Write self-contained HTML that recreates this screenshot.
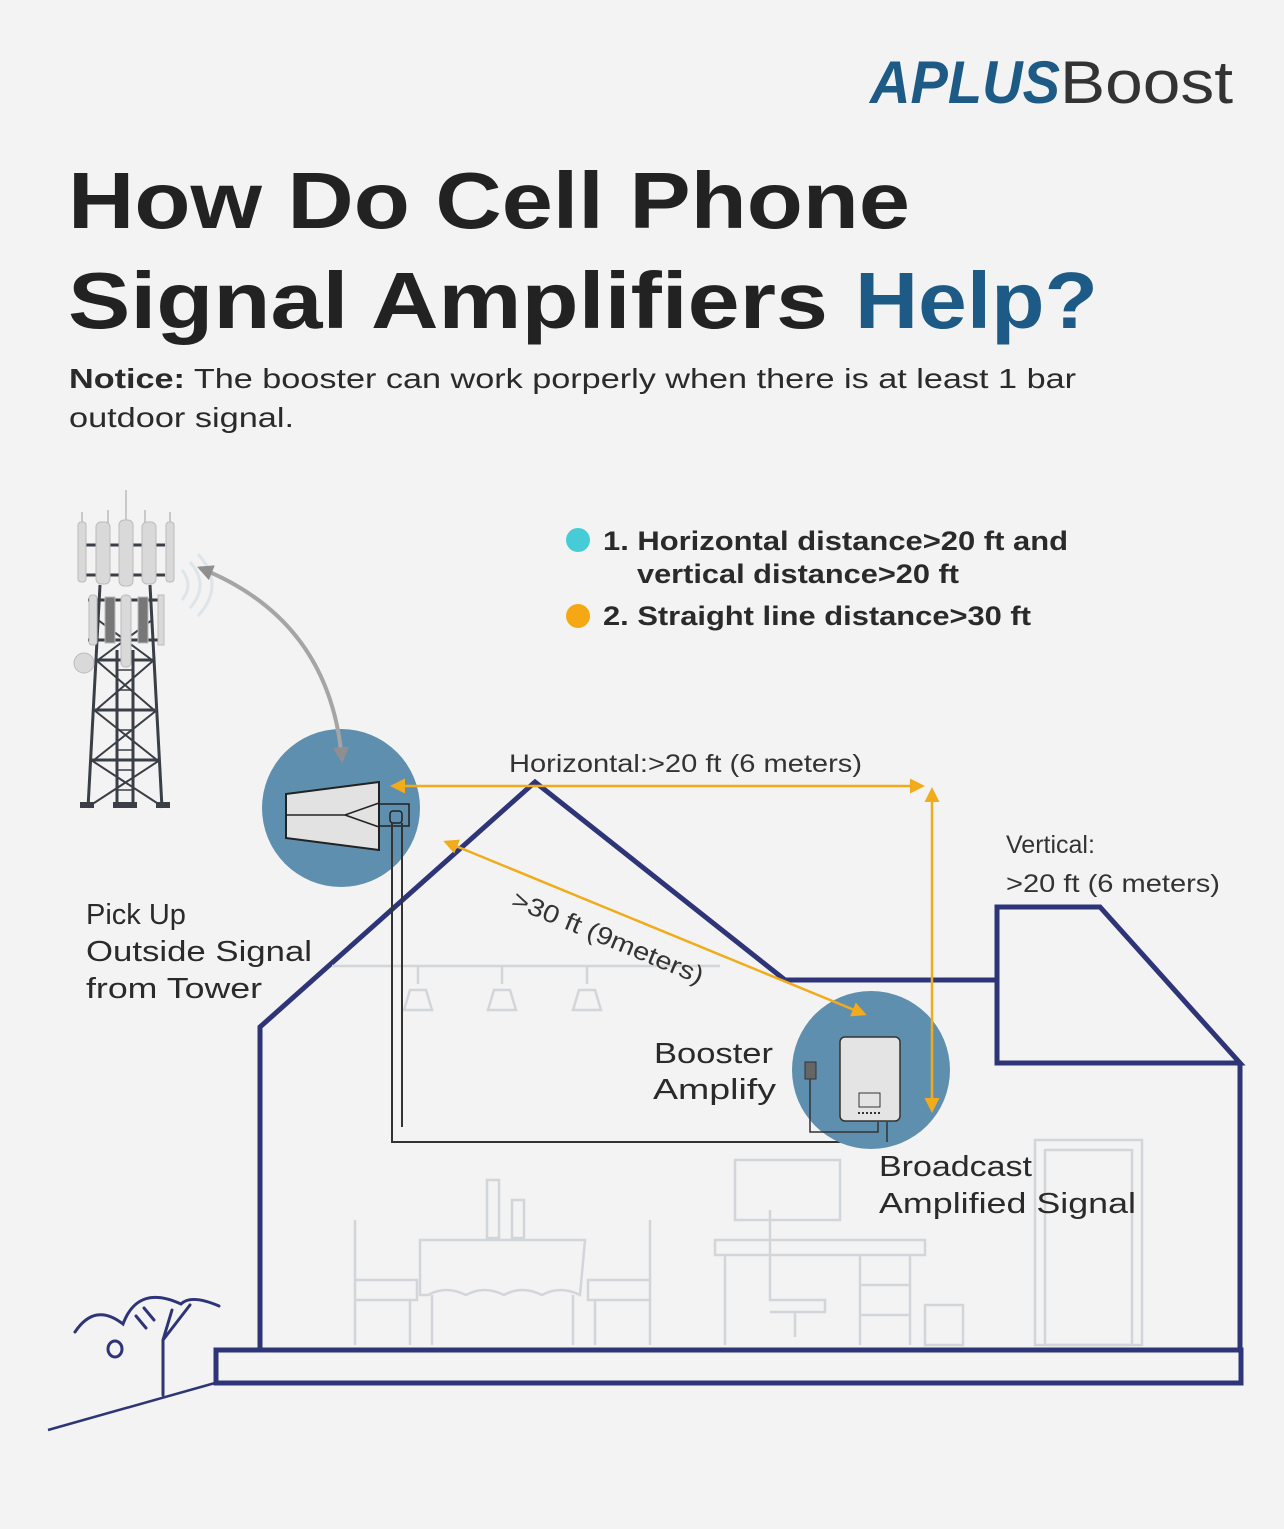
<!DOCTYPE html>
<html><head><meta charset="utf-8"><style>
html,body{margin:0;padding:0;background:#f3f3f3}
svg{display:block}
text{font-family:"Liberation Sans",sans-serif}
</style></head><body>
<svg width="1284" height="1529" viewBox="0 0 1284 1529" xmlns="http://www.w3.org/2000/svg">
<rect width="1284" height="1529" fill="#f3f3f3"/>
<defs>
<marker id="ya" viewBox="0 0 10 10" refX="8" refY="5" markerWidth="6" markerHeight="6" orient="auto-start-reverse"><path d="M0,0 L10,5 L0,10 z" fill="#f2ab1a"/></marker>
<marker id="ga" viewBox="0 0 10 10" refX="8" refY="5" markerWidth="4" markerHeight="4" orient="auto-start-reverse"><path d="M0,0 L10,5 L0,10 z" fill="#8f8f8f"/></marker>
</defs>
<!-- logo -->
<text x="870" y="103" font-size="60" font-weight="bold" font-style="italic" fill="#1d5a86" textLength="190" lengthAdjust="spacingAndGlyphs">APLUS</text>
<text x="1060" y="103" font-size="60" fill="#333" textLength="173" lengthAdjust="spacingAndGlyphs">Boost</text>
<!-- title -->
<text x="68" y="228" font-size="80" font-weight="bold" fill="#222" textLength="842" lengthAdjust="spacingAndGlyphs">How Do Cell Phone</text>
<text x="68" y="328" font-size="80" font-weight="bold" fill="#222" textLength="760" lengthAdjust="spacingAndGlyphs">Signal Amplifiers</text>
<text x="855" y="328" font-size="80" font-weight="bold" fill="#1d5a86" textLength="243" lengthAdjust="spacingAndGlyphs">Help?</text>
<text x="69" y="388" font-size="28" fill="#2a2a2a" textLength="1007" lengthAdjust="spacingAndGlyphs"><tspan font-weight="bold">Notice:</tspan> The booster can work porperly when there is at least 1 bar</text>
<text x="69" y="427" font-size="28" fill="#2a2a2a" textLength="225" lengthAdjust="spacingAndGlyphs">outdoor signal.</text>
<!-- legend -->
<circle cx="578" cy="540" r="12" fill="#45ccd6"/>
<circle cx="578" cy="616" r="12" fill="#f5a814"/>
<text x="603" y="550" font-size="27" font-weight="bold" fill="#2a2a2a" textLength="465" lengthAdjust="spacingAndGlyphs">1. Horizontal distance&gt;20 ft and</text>
<text x="637" y="583" font-size="27" font-weight="bold" fill="#2a2a2a" textLength="322" lengthAdjust="spacingAndGlyphs">vertical distance&gt;20 ft</text>
<text x="603" y="625" font-size="27" font-weight="bold" fill="#2a2a2a" textLength="428" lengthAdjust="spacingAndGlyphs">2. Straight line distance&gt;30 ft</text>
<!-- tower -->
<g stroke="#3a3f47" stroke-width="3" fill="none">
<line x1="100" y1="585" x2="88" y2="808"/><line x1="150" y1="585" x2="162" y2="808"/>
<line x1="117" y1="650" x2="117" y2="808"/><line x1="133" y1="650" x2="133" y2="808"/>
<path d="M98,620 L152,660 M152,620 L98,660 M96,660 L154,710 M154,660 L96,710 M94,710 L157,760 M157,710 L94,760 M91,760 L160,805 M160,760 L91,805" stroke-width="2"/>
<path d="M97,660H153 M95,710H155 M92,760H158 M85,545H165 M85,575H165 M88,600H162 M88,640H162"/>
<path d="M117,670H133 M117,690H133 M117,710H133 M117,730H133 M117,750H133 M117,770H133 M117,790H133" stroke-width="1.5"/>
</g>
<g stroke="#bbb" stroke-width="1.5"><path d="M126,490V520 M108,510V525 M145,510V525 M82,512V525 M170,512V525"/></g>
<g fill="#d9d9d9" stroke="#bbb">
<rect x="78" y="522" width="8" height="60" rx="3"/><rect x="96" y="522" width="14" height="62" rx="5"/><rect x="119" y="520" width="14" height="66" rx="5"/><rect x="142" y="522" width="14" height="62" rx="5"/><rect x="166" y="522" width="8" height="60" rx="3"/>
<rect x="89" y="595" width="8" height="50" rx="3"/><rect x="105" y="597" width="10" height="46" fill="#777"/><rect x="121" y="595" width="10" height="72" rx="4"/><rect x="138" y="597" width="10" height="46" fill="#777"/><rect x="158" y="595" width="6" height="50"/>
<circle cx="84" cy="663" r="10"/>
</g>
<path d="M80,808h14v-6h-14z M113,808h24v-6h-24z M156,808h14v-6h-14z" fill="#3a3f47"/>
<path d="M182,600 q12,-15 0,-30 M190,608 q20,-23 0,-46 M198,616 q28,-31 0,-62" stroke="#dde5ea" stroke-width="3" fill="none"/>
<!-- house -->
<g stroke="#2e3478" stroke-width="5" fill="none" stroke-linejoin="miter">
<path d="M260,1350 V1027 L535,782 L785,980 H997"/>
<path d="M997,907 H1100 L1240,1063 H997 Z"/>
<path d="M1240,1063 V1350"/>
<rect x="216" y="1350" width="1025" height="33"/>
</g>
<!-- tree and ground -->
<line x1="48" y1="1430" x2="215" y2="1383" stroke="#2e3478" stroke-width="2.5"/>
<g stroke="#2e3478" stroke-width="3" fill="none" stroke-linecap="round">
<path d="M163,1395 V1340 L172,1310 M163,1340 L190,1305"/>
<path d="M75,1332 q20,-30 48,-8 q15,-40 58,-20 q10,-10 38,2"/>
<ellipse cx="115" cy="1349" rx="7" ry="8"/>
<path d="M136,1316 l10,12 M144,1308 l10,12"/>
</g>
<!-- light furniture -->
<g stroke="#d2d5da" stroke-width="2.5" fill="none">
<line x1="332" y1="966" x2="720" y2="966"/>
<path d="M418,966v18 M502,966v18 M587,966v18"/>
<path d="M404,1010 l6,-20h16l6,20z M488,1010 l6,-20h16l6,20z M573,1010 l6,-20h16l6,20z"/>
<path d="M420,1240h165l-5,55q-20,-10 -38,0 q-20,-10 -38,0 q-20,-10 -38,0 q-20,-10 -38,0l-8,0z"/>
<path d="M432,1295v50 M573,1295v50"/>
<path d="M355,1220v125 M355,1280h62v20h-62 M410,1300v45 M650,1220v125 M650,1280h-62v20h62 M595,1300v45"/>
<rect x="487" y="1180" width="12" height="58"/><rect x="512" y="1200" width="12" height="38"/>
<rect x="735" y="1160" width="105" height="60"/>
<rect x="715" y="1240" width="210" height="15"/><path d="M725,1255v90 M860,1255v90 M910,1255v90 M860,1285h50 M860,1315h50"/>
<path d="M770,1210v90h55v12h-55 M795,1312v25"/>
<rect x="925" y="1305" width="38" height="40"/>
<rect x="1035" y="1140" width="107" height="205"/><rect x="1045" y="1150" width="87" height="195"/>
</g>
<!-- antenna circle -->
<circle cx="341" cy="808" r="79" fill="#5f8fae"/>
<path d="M286,794 L379,782 V850 L286,838 Z" fill="#e2e2e2" stroke="#222" stroke-width="2"/>
<path d="M286,815H345L379,803 M345,815L379,827" stroke="#222" stroke-width="1.5" fill="none"/>
<rect x="379" y="804" width="30" height="22" fill="none" stroke="#222" stroke-width="1.5"/>
<rect x="390" y="811" width="12" height="12" rx="3" fill="none" stroke="#222" stroke-width="1.5"/>
<path d="M392,823 V1142 H885 V1122 M402,823 V1127" stroke="#333" stroke-width="2" fill="none"/>
<!-- gray curve arrow -->
<path d="M200,568 Q330,620 342,760" stroke="#a5a5a5" stroke-width="4" fill="none" marker-start="url(#ga)" marker-end="url(#ga)"/>
<!-- booster circle -->
<circle cx="871" cy="1070" r="79" fill="#5f8fae"/>
<rect x="840" y="1037" width="60" height="84" rx="5" fill="#e4e4e4" stroke="#333" stroke-width="1.5"/>
<rect x="859" y="1093" width="21" height="14" fill="none" stroke="#333" stroke-width="1"/>
<path d="M858,1113h24" stroke="#333" stroke-width="2" stroke-dasharray="2,2"/>
<rect x="805" y="1062" width="11" height="17" fill="#666" stroke="#333"/>
<path d="M810,1079V1132H878V1122 M887,1122V1142" stroke="#333" stroke-width="1.5" fill="none"/>
<!-- yellow arrows -->
<g stroke="#f2ab1a" stroke-width="2.5" fill="none">
<line x1="393" y1="786" x2="922" y2="786" marker-start="url(#ya)" marker-end="url(#ya)"/>
<line x1="932" y1="790" x2="932" y2="1110" marker-start="url(#ya)" marker-end="url(#ya)"/>
<line x1="446" y1="842" x2="864" y2="1014" marker-start="url(#ya)" marker-end="url(#ya)"/>
</g>
<!-- labels -->
<text x="509" y="772" font-size="25" fill="#333" textLength="353" lengthAdjust="spacingAndGlyphs">Horizontal:&gt;20 ft (6 meters)</text>
<text transform="translate(510,906) rotate(22.5)" font-size="25" fill="#333" textLength="205" lengthAdjust="spacingAndGlyphs">&gt;30 ft (9meters)</text>
<text x="1006" y="853" font-size="25" fill="#333">Vertical:</text>
<text x="1006" y="892" font-size="25" fill="#333" textLength="214" lengthAdjust="spacingAndGlyphs">&gt;20 ft (6 meters)</text>
<g font-size="29" fill="#2a2a2a">
<text x="86" y="924">Pick Up</text>
<text x="86" y="961" textLength="226" lengthAdjust="spacingAndGlyphs">Outside Signal</text>
<text x="86" y="998" textLength="176" lengthAdjust="spacingAndGlyphs">from Tower</text>
<text x="654" y="1063" textLength="119" lengthAdjust="spacingAndGlyphs">Booster</text>
<text x="653" y="1099" textLength="123" lengthAdjust="spacingAndGlyphs">Amplify</text>
<text x="879" y="1176" textLength="153" lengthAdjust="spacingAndGlyphs">Broadcast</text>
<text x="879" y="1213" textLength="257" lengthAdjust="spacingAndGlyphs">Amplified Signal</text>
</g>
</svg>
</body></html>
